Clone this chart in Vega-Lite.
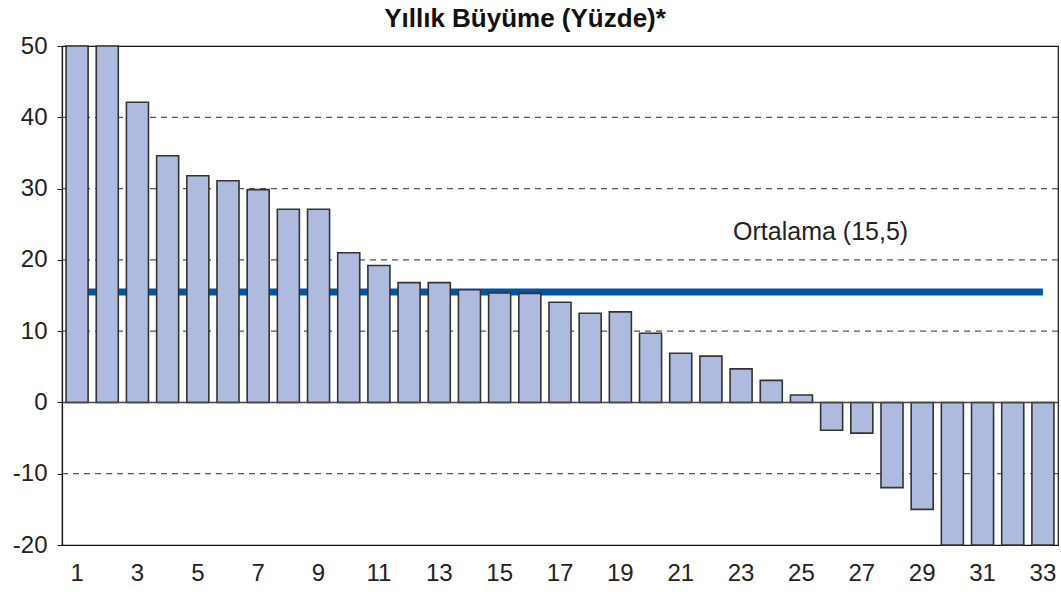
{
  "$schema": "https://vega.github.io/schema/vega-lite/v6.json",
  "autosize": {"type": "none"},
  "width": 996,
  "height": 499,
  "padding": {"left": 62, "top": 46, "right": 3, "bottom": 47},
  "background": "white",
  "config": {
    "font": "Liberation Sans",
    "view": {"stroke": "#111111", "strokeWidth": 1.2},
    "axis": {"labelFont": "Liberation Sans", "labelColor": "#222222"}
  },
  "title": {
    "text": "Yıllık Büyüme (Yüzde)*",
    "fontSize": 26,
    "fontWeight": "bold",
    "color": "#111111",
    "font": "Liberation Sans",
    "anchor": "middle",
    "frame": "group",
    "baseline": "alphabetic",
    "dx": -35,
    "offset": -19
  },
  "datasets": {
    "bars": [
      {"n": 1, "v": 50}, {"n": 2, "v": 50}, {"n": 3, "v": 42.1}, {"n": 4, "v": 34.6},
      {"n": 5, "v": 31.8}, {"n": 6, "v": 31.1}, {"n": 7, "v": 29.85}, {"n": 8, "v": 27.1},
      {"n": 9, "v": 27.1}, {"n": 10, "v": 21.0}, {"n": 11, "v": 19.2}, {"n": 12, "v": 16.8},
      {"n": 13, "v": 16.8}, {"n": 14, "v": 15.8}, {"n": 15, "v": 15.35}, {"n": 16, "v": 15.3},
      {"n": 17, "v": 14.05}, {"n": 18, "v": 12.5}, {"n": 19, "v": 12.7}, {"n": 20, "v": 9.7},
      {"n": 21, "v": 6.9}, {"n": 22, "v": 6.5}, {"n": 23, "v": 4.7}, {"n": 24, "v": 3.1},
      {"n": 25, "v": 1.05}, {"n": 26, "v": -3.9}, {"n": 27, "v": -4.3}, {"n": 28, "v": -11.95},
      {"n": 29, "v": -15.0}, {"n": 30, "v": -20}, {"n": 31, "v": -20}, {"n": 32, "v": -20},
      {"n": 33, "v": -20}
    ],
    "mean": [{"start": 1, "end": 33, "v": 15.5}],
    "label": [{"n": 23, "v": 23.9, "t": "Ortalama (15,5)"}],
    "zero": [{"v": 0}]
  },
  "layer": [
    {
      "data": {"name": "mean"},
      "mark": {"type": "rule", "color": "#0055a4", "strokeWidth": 7},
      "encoding": {
        "x": {"field": "start", "type": "ordinal", "scale": {"paddingInner": 0.27, "paddingOuter": 0.135},
          "axis": {"values": [1,3,5,7,9,11,13,15,17,19,21,23,25,27,29,31,33], "title": null, "labelAngle": 0, "labelFontSize": 24, "tickSize": 0, "labelPadding": 16, "domain": false, "grid": false}},
        "x2": {"field": "end"},
        "y": {"field": "v", "type": "quantitative", "scale": {"domain": [-20, 50], "nice": false, "zero": false},
          "axis": {"values": [-20,-10,0,10,20,30,40,50], "labelExpr": "datum.value < 0 ? '-' + abs(datum.value) : '' + datum.value", "title": null, "labelFontSize": 24, "tickSize": 5, "tickColor": "#222222", "labelPadding": 10, "domainColor": "#111111", "domainWidth": 1.2, "grid": false}}
      }
    },
    {
      "data": {"values": [{"g": -10}, {"g": 10}, {"g": 20}, {"g": 30}, {"g": 40}]},
      "mark": {"type": "rule", "color": "#555555", "strokeWidth": 1.2, "strokeDash": [6, 5]},
      "encoding": {"y": {"field": "g", "type": "quantitative"}}
    },
    {
      "data": {"name": "bars"},
      "mark": {"type": "bar", "fill": "#afbadf", "stroke": "#333333", "strokeWidth": 1.6},
      "encoding": {
        "x": {"field": "n", "type": "ordinal"},
        "y": {"field": "v", "type": "quantitative"},
        "y2": {"datum": 0}
      }
    },
    {
      "data": {"name": "zero"},
      "mark": {"type": "rule", "color": "#444444", "strokeWidth": 1.5},
      "encoding": {"y": {"field": "v", "type": "quantitative"}}
    },
    {
      "data": {"name": "label"},
      "mark": {"type": "text", "align": "left", "baseline": "middle", "dx": -8, "fontSize": 25, "color": "#222222", "font": "Liberation Sans"},
      "encoding": {
        "x": {"field": "n", "type": "ordinal"},
        "y": {"field": "v", "type": "quantitative"},
        "text": {"field": "t"}
      }
    }
  ]
}
